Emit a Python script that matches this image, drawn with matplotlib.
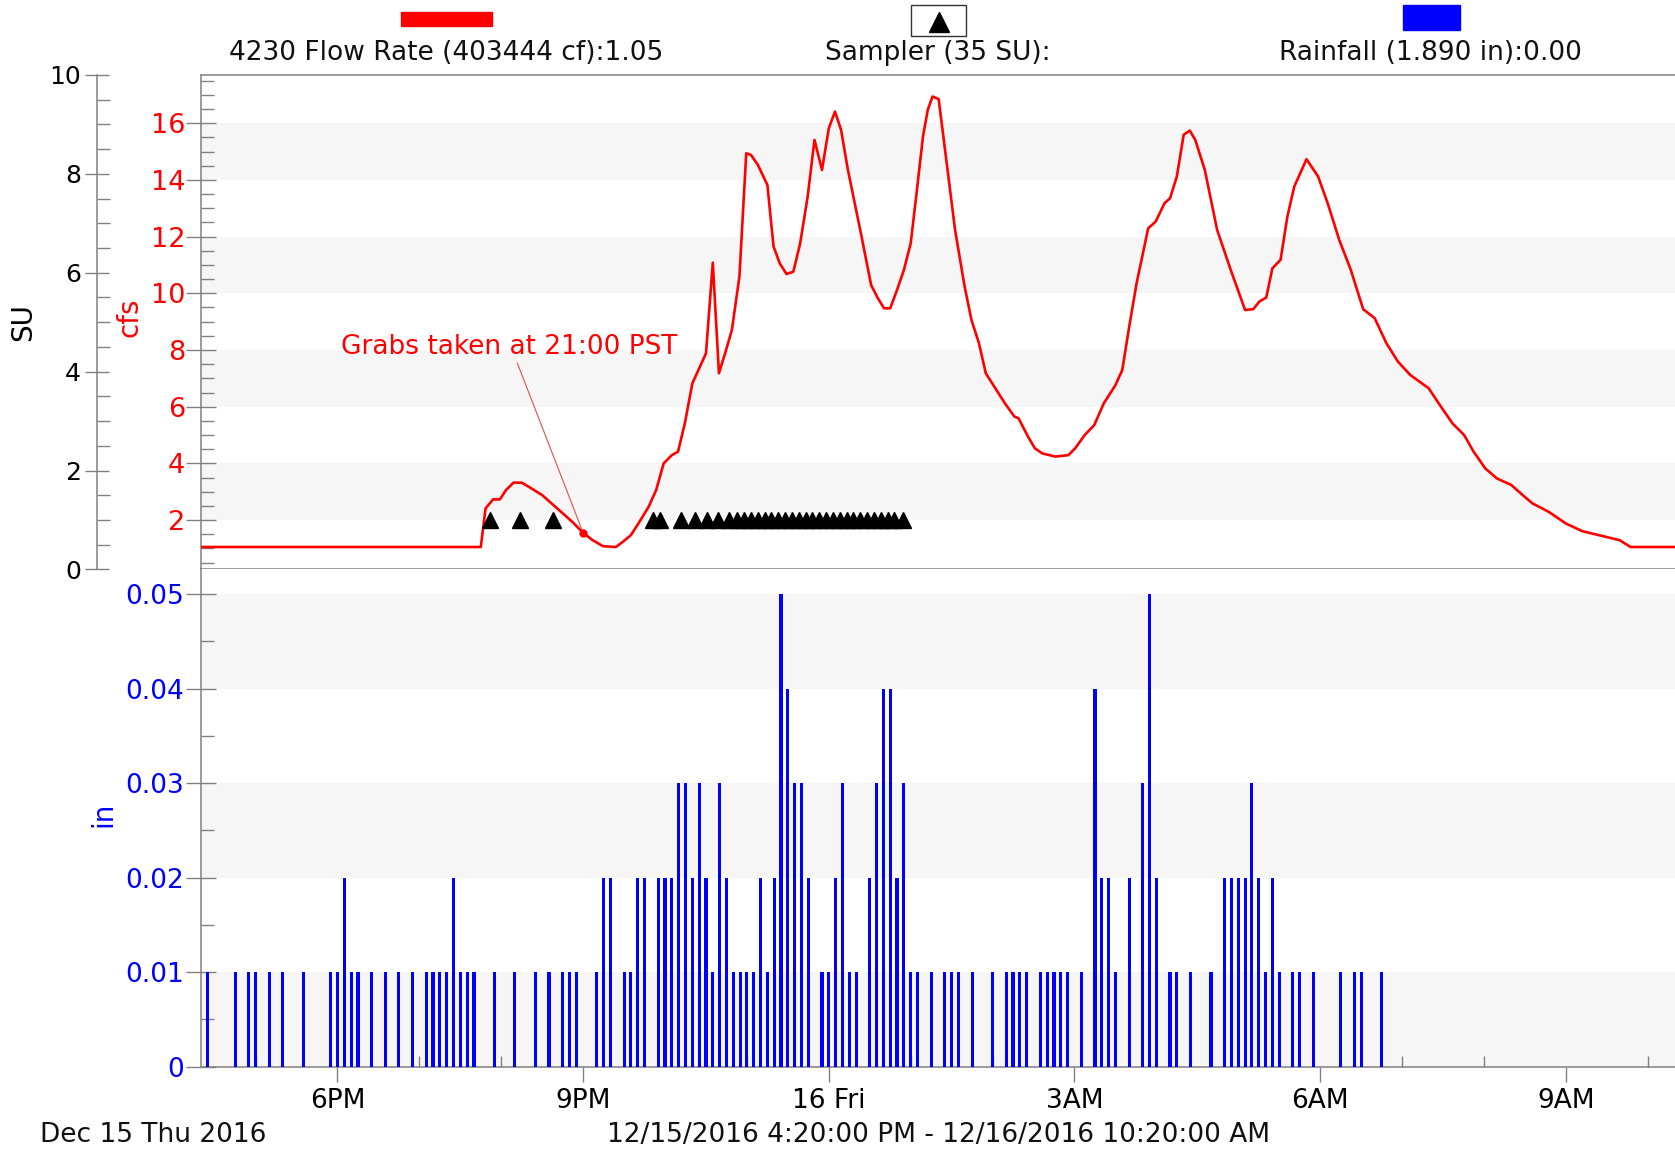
import matplotlib
matplotlib.use('Agg')
import matplotlib.pyplot as plt
from matplotlib.patches import Rectangle
from matplotlib.lines import Line2D
from matplotlib.ticker import FixedLocator, FixedFormatter, MultipleLocator

plt.rcParams['font.family'] = 'DejaVu Sans'

# time axis: minutes after 12/15/2016 4:20 PM
flow_t = [0, 205, 208.5, 214, 219, 223.5, 229, 235, 242, 250, 261, 272, 280, 287,
          294.5, 304, 309, 315, 320.5, 328, 333.5, 339, 345, 349.5, 354.5, 360, 365,
          370, 375, 379.5, 384, 389, 394.5, 399.5, 403, 408, 415, 419.5, 424, 429,
          434, 439, 444.5, 449.5, 455, 460, 464.5, 469, 474, 479, 484, 491, 496,
          500.5, 505, 510, 515, 520, 524, 529, 532.5, 536, 540.5, 545.5, 552.5,
          559.5, 564.5, 570, 575, 582, 589, 596, 599, 606, 611, 616.5, 626, 635.5,
          640.5, 647.5, 654.5, 661.5, 670, 675, 680.5, 685.5, 694, 699.5, 706, 710,
          715, 720, 724.5, 728.5, 735.5, 744.5, 754.5, 765, 771, 775.5, 780.5, 785,
          791, 796, 801, 810, 818.5, 825.5, 834, 842.5, 851.5, 860, 868.5, 877, 886,
          899.5, 908.5, 917, 925.5, 932.5, 941, 949.5, 960, 967, 975.5, 987.5, 1000,
          1012, 1024, 1039.5, 1047.5, 1080]
flow_cfs = [1.05, 1.05, 2.41, 2.73, 2.73, 3.06, 3.32, 3.32, 3.12, 2.88, 2.41, 1.94, 1.55,
            1.29, 1.08, 1.05, 1.23, 1.47, 1.88, 2.47, 3.06, 4.0, 4.29, 4.41, 5.41, 6.82,
            7.35, 7.88, 11.08, 7.18, 7.88, 8.71, 10.59, 14.94, 14.88, 14.53, 13.82,
            11.65, 11.06, 10.68, 10.76, 11.76, 13.41, 15.41, 14.35, 15.82, 16.41, 15.76,
            14.35, 13.18, 12.0, 10.29, 9.82, 9.47, 9.47, 10.12, 10.82, 11.76, 13.41,
            15.53, 16.47, 16.94, 16.85, 14.94, 12.24, 10.24, 9.06, 8.24, 7.18, 6.65,
            6.12, 5.65, 5.59, 4.94, 4.53, 4.35, 4.24, 4.29, 4.53, 5.0, 5.35, 6.12, 6.76,
            7.29, 8.94, 10.35, 12.29, 12.53, 13.18, 13.35, 14.12, 15.59, 15.74, 15.41,
            14.35, 12.24, 10.82, 9.41, 9.44, 9.71, 9.85, 10.88, 11.18, 12.71, 13.76,
            14.73, 14.12, 13.18, 11.88, 10.82, 9.44, 9.12, 8.24, 7.59, 7.12, 6.65, 6.0,
            5.41, 5.0, 4.41, 3.82, 3.47, 3.24, 2.94, 2.59, 2.29, 1.88, 1.61, 1.47, 1.29,
            1.05, 1.05]

sampler_t = [212, 234, 258, 331, 336, 352, 362, 371, 379, 387, 393, 398, 403, 408, 413,
             418, 423, 428, 433, 438, 443, 448, 453, 458, 463, 468, 473, 478, 483, 488,
             493, 498, 503, 508, 514]
sampler_su = [1] * len(sampler_t)

rain_t = [5, 25, 35, 40, 50, 60, 75, 95, 100, 105, 110, 115, 125, 135, 145, 155, 165,
          170, 175, 180, 185, 190, 195, 200, 215,
          230, 245, 255, 265, 270, 275, 290, 295, 300, 310, 315, 320, 325, 335, 340,
          345, 350, 355, 360, 365, 370, 375, 380, 385, 390, 395, 400, 405, 410, 415,
          420, 425, 430, 435,
          440, 445, 455, 460, 465, 470, 475, 480, 490, 495, 500, 505, 510, 515, 520,
          525, 535, 545, 550, 555, 565, 580, 590, 595, 600, 605, 615, 620, 625, 630,
          635, 645,
          655, 660, 665, 670, 680, 690, 695, 700, 710, 715, 725, 740, 750, 755, 760,
          765, 770, 775, 780, 785, 790, 800, 805, 815, 835, 845, 850, 865]
rain_in = [.01, .01, .01, .01, .01, .01, .01, .01, .01, .02, .01, .01, .01, .01, .01, .01,
           .01, .01, .01, .01, .02, .01, .01, .01, .01,
           .01, .01, .01, .01, .01, .01, .01, .02, .02, .01, .01, .02, .02, .02, .02,
           .02, .03, .03, .02, .03, .02, .01, .03, .02, .01, .01, .01, .01, .02, .01,
           .02, .05, .04, .03,
           .03, .02, .01, .01, .02, .03, .01, .01, .02, .03, .04, .04, .02, .03, .01,
           .01, .01, .01, .01, .01, .01, .01, .01, .01, .01, .01, .01, .01, .01, .01,
           .01, .01,
           .04, .02, .02, .01, .02, .03, .05, .02, .01, .01, .01, .01, .02, .02, .02,
           .02, .03, .02, .01, .02, .01, .01, .01, .01, .01, .01, .01, .01]

grab_t, grab_cfs = 280, 1.55

xtick_t = [100, 280, 460, 640, 820, 1000]
xtick_labels = ['6PM', '9PM', '16 Fri', '3AM', '6AM', '9AM']
hour_t = [40, 160, 220, 340, 400, 520, 580, 700, 760, 880, 940, 1060]

cfs_ticks = [2, 4, 6, 8, 10, 12, 14, 16]
su_ticks = [0, 2, 4, 6, 8, 10]
in_ticks = [0, 0.01, 0.02, 0.03, 0.04, 0.05]
in_labels = ['0', '0.01', '0.02', '0.03', '0.04', '0.05']

W, H = 1675, 1152
GREY = '#808080'
BAND = '#f6f6f6'


def box(x0, y0, x1, y1):
    return [x0 / W, 1 - y1 / H, (x1 - x0) / W, (y1 - y0) / H]


fig = plt.figure(figsize=(W / 100, H / 100), dpi=100)
ax_top = fig.add_axes(box(201, 75, 1675, 569.4))
ax_bot = fig.add_axes(box(201, 569.4, 1675, 1066.7), sharex=ax_top)
ax_su = ax_top.twinx()

# faint background bands
for lo in [2, 6, 10, 14]:
    ax_top.axhspan(lo, lo + 2, color=BAND, lw=0, zorder=0)
for lo in [0, 0.02, 0.04]:
    ax_bot.axhspan(lo, lo + 0.01, color=BAND, lw=0, zorder=0)

# flow
ax_top.plot(flow_t, flow_cfs, color='#ff0000', lw=1.9, zorder=3)
ax_top.plot([grab_t], [grab_cfs], 'o', color='#ff0000', ms=5, zorder=4)
ax_top.annotate('Grabs taken at 21:00 PST', xy=(grab_t, grab_cfs), xytext=(226, 8.1),
                ha='center', va='center', fontsize=19, color='#ff0000',
                arrowprops=dict(arrowstyle='-', color='#e05050', lw=0.8,
                                shrinkA=0, shrinkB=0, relpos=(0.52, 0)))
ax_top.set_ylim(0.26, 17.7)
ax_top.yaxis.set_major_locator(FixedLocator(cfs_ticks))
ax_top.yaxis.set_minor_locator(MultipleLocator(0.5))
ax_top.tick_params(axis='y', which='major', direction='inout', length=21, width=1,
                   color=GREY, labelcolor='#ff0000', labelsize=19.5, pad=1)
ax_top.tick_params(axis='y', which='minor', direction='in', length=9, width=1, color=GREY)
ax_top.tick_params(axis='x', which='both', bottom=False, labelbottom=False)
ax_top.set_ylabel('cfs', color='#ff0000', fontsize=20)
ax_top.yaxis.label.set_verticalalignment('center')
ax_top.yaxis.set_label_coords(-0.0488, 0.51)

# sampler on SU axis
ax_su.plot(sampler_t, sampler_su, linestyle='none', marker='^', ms=11, color='black')
ax_su.set_ylim(0, 10)
ax_su.yaxis.tick_left()
ax_su.yaxis.set_label_position('left')
ax_su.spines['left'].set_position(('axes', (97 - 201) / 1474))
ax_su.yaxis.set_major_locator(FixedLocator(su_ticks))
ax_su.yaxis.set_minor_locator(MultipleLocator(0.5))
ax_su.tick_params(axis='y', which='major', direction='inout', length=17, width=1,
                  color=GREY, labelcolor='black', labelsize=18, pad=3)
ax_su.tick_params(axis='y', which='minor', direction='in', length=9, width=1, color=GREY)
ax_su.set_ylabel('SU', fontsize=20)
ax_su.yaxis.label.set_verticalalignment('center')
ax_su.yaxis.set_label_coords(-0.1204, 0.5)

# rainfall
ax_bot.bar(rain_t, rain_in, width=2.3, color='#0000ff', lw=0, zorder=3)
ax_bot.set_ylim(0, 0.0526)
ax_bot.set_xlim(0, 1080)
ax_bot.yaxis.set_major_locator(FixedLocator(in_ticks))
ax_bot.yaxis.set_major_formatter(FixedFormatter(in_labels))
ax_bot.yaxis.set_minor_locator(MultipleLocator(0.005))
ax_bot.tick_params(axis='y', which='major', direction='inout', length=21, width=1,
                   color=GREY, labelcolor='#0000ff', labelsize=19, pad=2)
ax_bot.tick_params(axis='y', which='minor', direction='in', length=9, width=1, color=GREY)
ax_bot.xaxis.set_major_locator(FixedLocator(xtick_t))
ax_bot.xaxis.set_major_formatter(FixedFormatter(xtick_labels))
ax_bot.xaxis.set_minor_locator(FixedLocator(hour_t))
ax_bot.tick_params(axis='x', which='major', direction='out', length=11, width=1,
                   color=GREY, labelsize=19, pad=4)
ax_bot.tick_params(axis='x', which='minor', direction='in', length=8, width=1, color=GREY)
ax_bot.set_ylabel('in', color='#0000ff', fontsize=20)
ax_bot.yaxis.label.set_verticalalignment('center')
ax_bot.yaxis.set_label_coords(-0.0661, 0.508)

for ax in (ax_top, ax_bot, ax_su):
    for s in ax.spines.values():
        s.set_color(GREY)
        s.set_linewidth(1.1)
    ax.spines['right'].set_visible(False)
ax_bot.spines['top'].set_visible(False)
for s in ('top', 'bottom'):
    ax_su.spines[s].set_visible(False)

# legend strip
fig.add_artist(Rectangle((401 / W, 1 - 26 / H), 91 / W, 14 / H,
                         transform=fig.transFigure, color='#ff0000'))
fig.add_artist(Rectangle((911 / W, 1 - 36 / H), 55 / W, 31 / H,
                         transform=fig.transFigure, fc='white', ec='#333333', lw=1))
fig.add_artist(Line2D([938.5 / W], [1 - 22 / H], transform=fig.transFigure,
                      marker='^', ms=14, color='black', linestyle='none'))
fig.add_artist(Rectangle((1403 / W, 1 - 30 / H), 57 / W, 25 / H,
                         transform=fig.transFigure, color='#0000ff'))
for x, s in [(446, '4230 Flow Rate (403444 cf):1.05'), (938, 'Sampler (35 SU):'),
             (1430, 'Rainfall (1.890 in):0.00')]:
    fig.text(x / W, 1 - 53 / H, s, ha='center', va='center', fontsize=19, color='#111111')

fig.text(39.5 / W, 1 - 1135 / H, 'Dec 15 Thu 2016', ha='left', va='center',
         fontsize=19, color='#111111')
fig.text(938.5 / W, 1 - 1135 / H, '12/15/2016 4:20:00 PM - 12/16/2016 10:20:00 AM',
         ha='center', va='center', fontsize=19, color='#111111')

fig.savefig('out.png', dpi=100)
